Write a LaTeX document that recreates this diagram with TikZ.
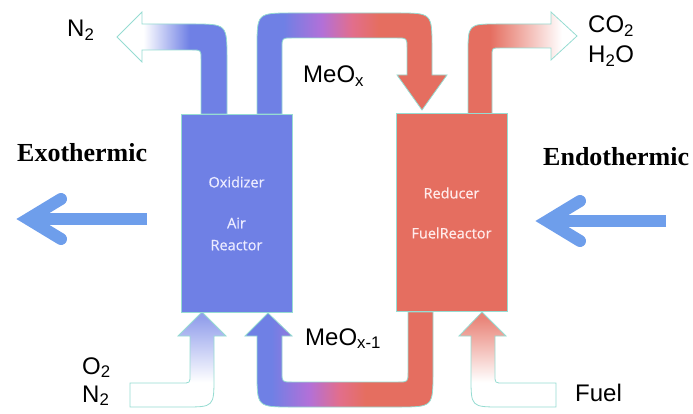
\documentclass[tikz,border=0pt]{standalone}
\usepackage{fontspec}
\setmainfont{Liberation Serif}
\setsansfont{Liberation Sans}
\newfontfamily\boxfont[FakeBold=0.6]{Open Sans}

\definecolor{oxblue}{RGB}{111,128,229}
\definecolor{redcol}{RGB}{229,110,96}
\definecolor{midpurple}{RGB}{178,112,216}
\definecolor{midpink}{RGB}{226,110,140}
\definecolor{edgecol}{RGB}{150,220,210}
\definecolor{heatcol}{RGB}{110,158,235}

\pgfdeclarehorizontalshading{oxtored}{100bp}{color(0bp)=(oxblue); color(32bp)=(oxblue); color(42bp)=(midpurple); color(50bp)=(midpink); color(57bp)=(redcol); color(100bp)=(redcol)}
\pgfdeclarehorizontalshading{oxfade}{100bp}{color(0bp)=(white); color(37bp)=(white); color(58bp)=(oxblue); color(100bp)=(oxblue)}
\pgfdeclarehorizontalshading{redfade}{100bp}{color(0bp)=(redcol); color(35bp)=(redcol); color(68bp)=(white); color(100bp)=(white)}
\pgfdeclareverticalshading{oxrise}{100bp}{color(0bp)=(white); color(38bp)=(white); color(72bp)=(oxblue!75); color(100bp)=(oxblue!75)}
\pgfdeclareverticalshading{redrise}{100bp}{color(0bp)=(white); color(38bp)=(white); color(72bp)=(redcol!85); color(100bp)=(redcol!85)}

\begin{document}
\begin{tikzpicture}[x=1pt,y=-1pt,
    fat/.style={draw=edgecol,line width=0.8pt},
    heat/.style={draw=heatcol,line width=12pt},
    reactor/.style={draw=edgecol,line width=0.6pt,minimum width=111pt,minimum height=198pt,inner sep=0pt},
    boxtext/.style={font=\boxfont\fontsize{14.5}{22}\selectfont,align=center},
    chem/.style={font=\sffamily\fontsize{24}{28}\selectfont,anchor=base west,inner sep=0pt},
    heatlabel/.style={font=\rmfamily\bfseries\fontsize{26}{30}\selectfont,anchor=base west,inner sep=0pt}]
    \useasboundingbox (0,0) rectangle (693,414);

    \shadedraw[fat,shading=oxfade] (201,114) -- (201,59) .. controls (201,50) .. (192,50) -- (142,50) -- (142,62) -- (117,37) -- (142,12) -- (142,24) -- (192,24) .. controls (227,24) .. (227,59) -- (227,114) -- cycle;
    \shadedraw[fat,shading=oxtored] (257,114) -- (257,48) .. controls (257,13) .. (292,13) -- (397,13) .. controls (432,13) .. (432,48) -- (432,75) -- (447,75) -- (422,110) -- (397,75) -- (407,75) -- (407,48) .. controls (407,38) .. (397,38) -- (292,38) .. controls (282,38) .. (282,48) -- (282,114) -- cycle;
    \shadedraw[fat,shading=redfade] (468,114) -- (468,54) .. controls (468,24) .. (498,24) -- (551,24) -- (551,12) -- (577,36) -- (551,60) -- (551,48) -- (500,48) .. controls (492,48) .. (492,56) -- (492,114) -- cycle;

    \shadedraw[fat,shading=oxrise] (130,383) -- (182,383) .. controls (190,383) .. (190,375) -- (190,336) -- (178,336) -- (202,312) -- (226,336) -- (214,336) -- (214,377) .. controls (214,407) .. (184,407) -- (130,407) -- cycle;
    \shadedraw[fat,shading=oxtored] (268,313) -- (292,336) -- (282,336) -- (282,372) .. controls (282,382) .. (292,382) -- (398,382) .. controls (408,382) .. (408,372) -- (408,312) -- (433,312) -- (433,372) .. controls (433,407) .. (398,407) -- (292,407) .. controls (257,407) .. (257,372) -- (257,336) -- (245,336) -- cycle;
    \shadedraw[fat,shading=redrise] (482,312) -- (506,336) -- (495,336) -- (495,375) .. controls (495,383) .. (503,383) -- (556,383) -- (556,407) -- (501,407) .. controls (471,407) .. (471,377) -- (471,336) -- (459,336) -- cycle;

    \node[reactor,fill=oxblue] (ox) at (236.5,213) {};
    \node[reactor,fill=redcol] (red) at (451.5,212.5) {};
    \node[boxtext,text=blue!8] (oxname) at (236.5,182) {Oxidizer};
    \node[boxtext,text=blue!8] (oxair) at (236.5,234) {Air\\Reactor};
    \node[boxtext,text=red!8] (redname) at (451.5,193) {Reducer};
    \node[boxtext,text=red!8] (redfuel) at (451.5,233) {FuelReactor};

    \coordinate (exotip) at (28,219);
    \coordinate (exotail) at (147,219);
    \draw[heat] (exotail) -- (exotip);
    \draw[heat,line cap=round,line join=miter] (61,199) -- (exotip) -- (61,239);
    \coordinate (endotip) at (547,221);
    \coordinate (endotail) at (666,221);
    \draw[heat] (endotail) -- (endotip);
    \draw[heat,line cap=round,line join=miter] (580,201) -- (endotip) -- (580,241);

    \node[heatlabel] (exo) at (17,162) {Exothermic};
    \node[heatlabel] (endo) at (543,166) {Endothermic};

    \node[chem] (nout) at (67,37) {N\textsubscript{2}};
    \node[chem] (meox) at (303,83) {MeO\textsubscript{x}};
    \node[chem] (co2) at (588,33) {CO\textsubscript{2}};
    \node[chem] (h2o) at (588,63) {H\textsubscript{2}O};
    \node[chem] (o2in) at (82,374) {O\textsubscript{2}};
    \node[chem] (n2in) at (82,402) {N\textsubscript{2}};
    \node[chem] (meoxred) at (305,345) {MeO\textsubscript{x-1}};
    \node[chem] (fuel) at (575,401) {Fuel};

\end{tikzpicture}
\end{document}
